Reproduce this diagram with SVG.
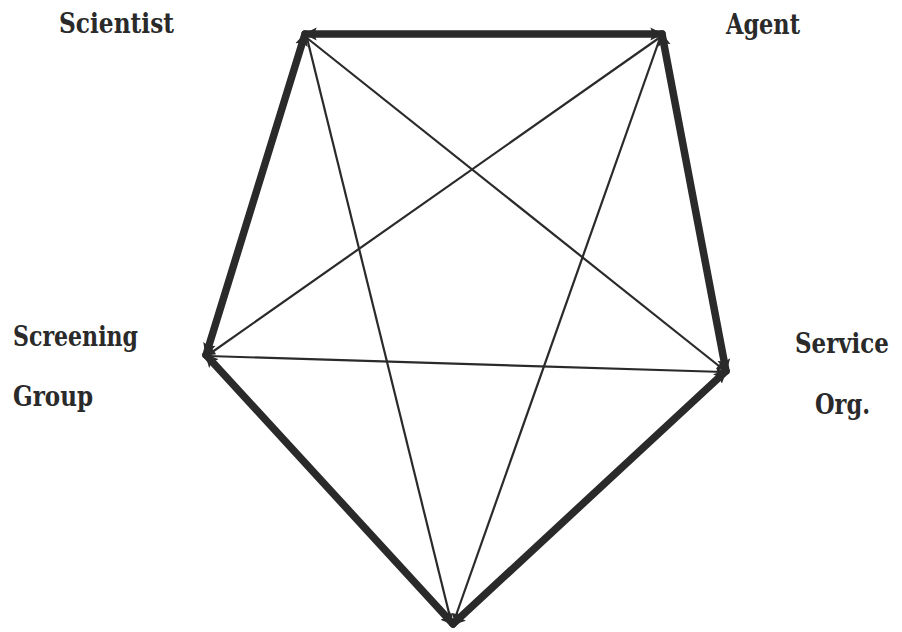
<svg xmlns="http://www.w3.org/2000/svg" width="902" height="632" viewBox="0 0 902 632">
<style>
.lbl{font-family:"DejaVu Serif","Liberation Serif",serif;font-weight:bold;font-size:28px;fill:#2a2a2a}
.bold{stroke:#2a2a2a;stroke-width:7.5;fill:none;stroke-linecap:round}
.thin{stroke:#2a2a2a;stroke-width:2.2;fill:none}
</style>
<defs>
<marker id="ab" viewBox="0 0 10 10" refX="9" refY="5" markerUnits="userSpaceOnUse" markerWidth="13" markerHeight="15" orient="auto-start-reverse">
<path d="M0,0 L10,5 L0,10 L2,5 z" fill="#2a2a2a"/>
</marker>
<marker id="at" viewBox="0 0 10 10" refX="9" refY="5" markerUnits="userSpaceOnUse" markerWidth="10" markerHeight="8" orient="auto">
<path d="M0,0 L10,5 L0,10 z" fill="#2a2a2a"/>
</marker>
</defs>
<g id="connectors">
<line class="bold" x1="305" y1="34" x2="662" y2="34" marker-start="url(#ab)" marker-end="url(#ab)"/>
<line class="bold" x1="662" y1="34" x2="726" y2="371" marker-start="url(#ab)" marker-end="url(#ab)"/>
<line class="bold" x1="726" y1="371" x2="453" y2="624" marker-start="url(#ab)" marker-end="url(#ab)"/>
<line class="bold" x1="453" y1="624" x2="206" y2="355" marker-start="url(#ab)" marker-end="url(#ab)"/>
<line class="bold" x1="206" y1="355" x2="305" y2="34" marker-start="url(#ab)" marker-end="url(#ab)"/>
<line class="thin" x1="307" y1="38" x2="724" y2="370" marker-end="url(#at)"/>
<line class="thin" x1="307" y1="38" x2="451" y2="621" marker-end="url(#at)"/>
<line class="thin" x1="659" y1="38" x2="208" y2="355" marker-end="url(#at)"/>
<line class="thin" x1="660" y1="38" x2="454" y2="621" marker-end="url(#at)"/>
<line class="thin" x1="208" y1="356" x2="724" y2="372" marker-end="url(#at)"/>
</g>
<g id="scientist"><text class="lbl" x="59" y="33" textLength="115" lengthAdjust="spacingAndGlyphs">Scientist</text></g>
<g id="agent"><text class="lbl" x="726" y="34" textLength="74" lengthAdjust="spacingAndGlyphs">Agent</text></g>
<g id="screening-group"><text class="lbl" x="13" y="346" textLength="125" lengthAdjust="spacingAndGlyphs">Screening</text><text class="lbl" x="13" y="406" textLength="80" lengthAdjust="spacingAndGlyphs">Group</text></g>
<g id="service-org"><g transform="translate(795,353) scale(0.7,1)"><text class="lbl" x="0" y="0" textLength="134" lengthAdjust="spacingAndGlyphs">Service</text></g><text class="lbl" x="815" y="414" textLength="55" lengthAdjust="spacingAndGlyphs">Org.</text></g>
<g id="bottom-node"></g>
</svg>
